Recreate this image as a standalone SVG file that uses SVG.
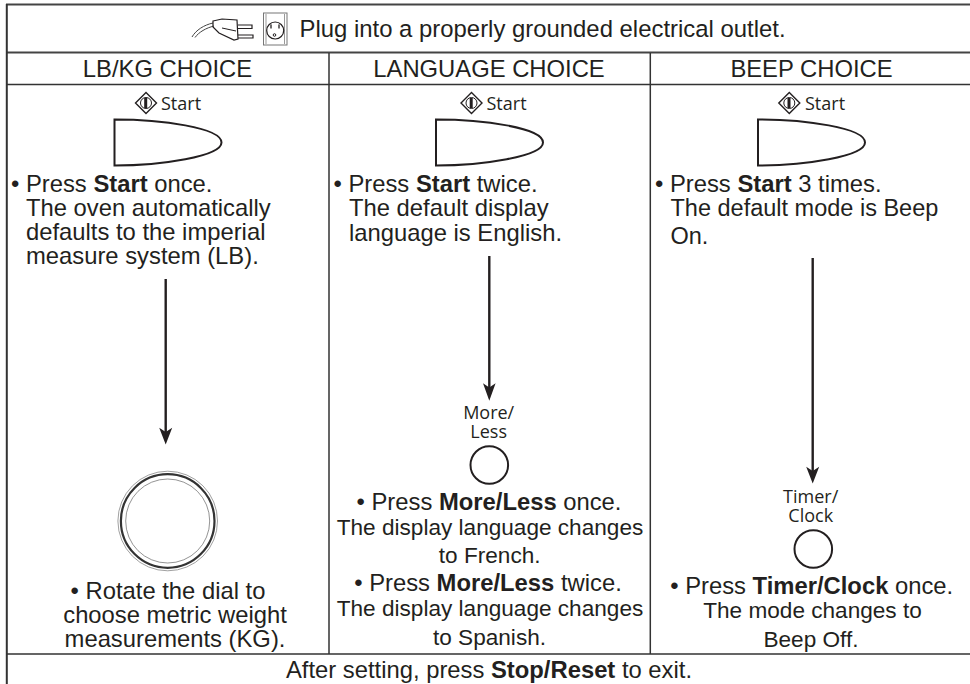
<svg xmlns="http://www.w3.org/2000/svg" width="970" height="684" viewBox="0 0 970 684">
<style>
text{font-family:"Liberation Sans",Arial,sans-serif;font-size:23.8px;fill:#231f20}
.b{font-weight:bold}
.m{text-anchor:middle}
.c{font-size:22.6px}
.s{font-family:"Open Sans","Noto Sans",sans-serif;font-size:18px}
.ln{stroke:#333;fill:none}
.key{fill:#fff;stroke:#231f20;stroke-width:2}
.wire{stroke:#231f20;stroke-width:2.400;fill:none}
.head{fill:#231f20}
</style>
<defs>
<g id="st">
<path d="M0,-10.500 L10.500,0 L0,10.500 L-10.500,0 Z" fill="#fff" stroke="#231f20" stroke-width="1.400"/>
<circle r="5.500" fill="none" stroke="#231f20" stroke-width="1"/>
<path d="M-.3,-5 V5" stroke="#231f20" stroke-width="3"/>
</g>
<path id="btn" class="key" d="M0,0 C46,0 107,8 107,23 C107,37 46,46 0,46 Z"/>
</defs>
<rect width="970" height="684" fill="#fff"/>
<g id="table" class="ln">
<path d="M6,4.500 H970 M6,52.500 H970" stroke-width="1.800" stroke="#444"/>
<path d="M6.500,84.500 H970 M6.500,654 H970" stroke-width="1.300"/>
<path d="M6.800,4 V684" stroke-width="2"/>
<path d="M329,53 V654 M650.300,53 V654" stroke-width="1.500"/>
</g>
<g id="header">
<g id="plug-icon" fill="none" stroke="#231f20" stroke-width="1">
<path d="M192,37 C196,30 204,25 213,23 M195,37.500 C199,32 206,28 214,26" stroke="#444"/>
<path d="M213,21 L222,19 L237,20 L238,39 L234,40 L219,33 L213,27 Z" stroke-width="1.200"/>
<path d="M238,25 H252 V28.500 H238 M238,35 H253 V38 H238" stroke-width="1.200"/>
<path d="M222,28 L236,31"/>
<rect x="263.500" y="13" width="23.500" height="32" stroke="#777"/>
<path d="M266,14 V44 M284.500,14 V44" stroke="#999"/>
<circle cx="275.200" cy="30.500" r="8.500" stroke-width="1.200"/>
<path d="M271,25 V28.500 M279,25 V28.500 M271.500,25 H270.500 M279.500,25 H278.500" stroke-width="1.300"/>
<circle cx="274.500" cy="35" r="1.300"/>
</g>
<text x="299.500" y="36.500" style="font-size:23.900px">Plug into a properly grounded electrical outlet.</text>
<text class="m" x="167.500" y="77">LB/KG CHOICE</text>
<text class="m" x="489" y="77">LANGUAGE CHOICE</text>
<text class="m" x="811.500" y="77">BEEP CHOICE</text>
</g>
<g id="col-lbkg">
<use href="#st" x="146" y="103"/><text class="s" x="161" y="110">Start</text>
<use href="#btn" x="114.500" y="119.500"/>
<text x="11" y="191.500">• Press <tspan class="b">Start</tspan> once.</text>
<text x="26" y="215.500">The oven automatically</text>
<text x="26" y="239.500">defaults to the imperial</text>
<text x="26" y="263.500">measure system (LB).</text>
</g>
<g id="dial" fill="none" stroke="#333">
<circle cx="167.700" cy="521" r="49.800" stroke-width=".7" stroke="#777"/>
<circle cx="167.700" cy="521" r="46.800" stroke-width="2.200"/>
<circle cx="167.700" cy="521" r="42" stroke-width=".7" stroke="#666"/>
</g>
<g id="dial-text">
<text class="m" x="168" y="599">• Rotate the dial to</text>
<text class="m" x="175" y="622.500">choose metric weight</text>
<text class="m" x="175" y="646.500">measurements (KG).</text>
</g>
<g id="col-lang">
<use href="#st" x="471.500" y="103"/><text class="s" x="486.500" y="110">Start</text>
<use href="#btn" x="436" y="119.500"/>
<text x="333.500" y="191.500">• Press <tspan class="b">Start</tspan> twice.</text>
<text x="349" y="215.500">The default display</text>
<text x="349" y="241">language is English.</text>
<text class="s m" x="488.700" y="419">More/</text>
<text class="s m" x="488.700" y="437.500">Less</text>
<circle class="key" cx="489.300" cy="465" r="18.800"/>
<text class="m" x="489" y="509.500">• Press <tspan class="b">More/Less</tspan> once.</text>
<text class="m c" x="490" y="534.500">The display language changes</text>
<text class="m c" x="489.700" y="562.500">to French.</text>
<text class="m" x="488" y="591">• Press <tspan class="b">More/Less</tspan> twice.</text>
<text class="m c" x="490" y="616">The display language changes</text>
<text class="m c" x="489.500" y="644.500">to Spanish.</text>
</g>
<g id="col-beep">
<use href="#st" x="789.300" y="103"/><text class="s" x="805" y="110">Start</text>
<use href="#btn" x="758" y="119.500"/>
<text x="655" y="191.500">• Press <tspan class="b">Start</tspan> 3 times.</text>
<text x="670.500" y="216" style="font-size:23.500px">The default mode is Beep</text>
<text x="670.500" y="244" style="font-size:23.500px">On.</text>
<text class="s m" x="810.700" y="503">Timer/</text>
<text class="s m" x="810.700" y="521.500">Clock</text>
<circle class="key" cx="813.300" cy="549" r="18.800"/>
<text class="m" x="811.700" y="593.500">• Press <tspan class="b">Timer/Clock</tspan> once.</text>
<text class="m c" x="812.500" y="618">The mode changes to</text>
<text class="m c" x="811" y="646.500">Beep Off.</text>
</g>
<g id="connectors">
<path class="wire" d="M165.700,279 V435"/>
<path class="head" d="M159.200,427.700 L165.700,432 L172.200,427.700 L165.700,444.500 Z"/>
<path class="wire" d="M489.300,256 V391"/>
<path class="head" d="M483,383.300 L489.300,387.500 L495.600,383.300 L489.300,400.700 Z"/>
<path class="wire" d="M812.700,258 V474"/>
<path class="head" d="M806.200,466.700 L812.700,471 L819.200,466.700 L812.700,483.500 Z"/>
</g>
<text id="footer" class="m" x="489" y="678">After setting, press <tspan class="b">Stop/Reset</tspan> to exit.</text>
</svg>
